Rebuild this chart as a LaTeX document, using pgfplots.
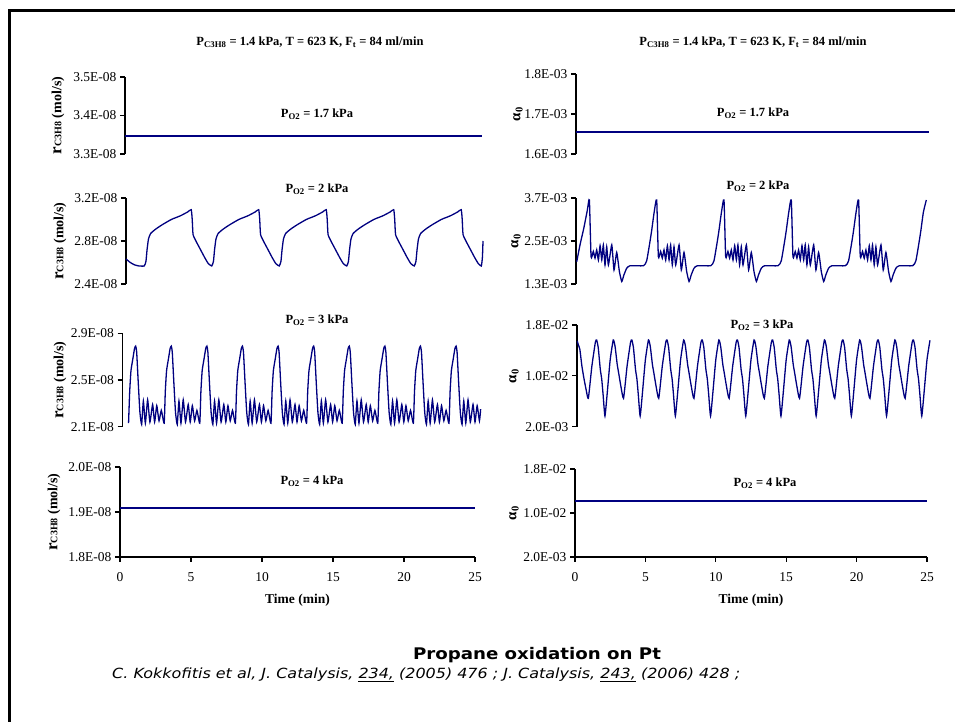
\documentclass[border=0pt]{standalone}
\usepackage{fontspec}
\setmainfont{Liberation Serif}
\newfontfamily\capfont{DejaVu Sans}
\usepackage{pgfplots}
\pgfplotsset{compat=1.18}
\definecolor{curve}{RGB}{0,0,128}
\newcommand{\ticksz}{\fontsize{13.5}{14}\selectfont}
\newcommand{\lblsz}{\fontsize{12.5}{13}\selectfont\bfseries}
\pgfplotsset{
  panel/.style={
    scale only axis, enlargelimits=false, clip=false,
    axis y line*=left,
    axis line style={black, line width=1.1pt},
    tick align=outside, major tick length=5pt,
    tick style={black, line width=1.1pt},
    ticklabel style={font=\ticksz},
    /pgf/number format/assume math mode=true,
    xmin=0, xmax=25,
    every axis plot post/.append style={color=curve, line width=1.3pt, mark=none},
  },
  top/.style={panel, axis x line=none},
  bottom/.style={panel,
    axis x line*=bottom, xtick={0,5,10,15,20,25},
    xticklabel style={yshift=-7pt},
    xlabel={Time (min)}, xlabel style={font=\fontsize{13.5}{14}\selectfont\bfseries, yshift=-6pt},
  },
  wavy/.style={smooth, tension=0.3},
}
\begin{document}
\begin{tikzpicture}
\useasboundingbox (0,0) rectangle (955pt,722pt);
\draw[line width=3pt] (9pt,0pt) -- (9pt,711pt) -- (955pt,711pt);

% ---------- left column ----------
\begin{axis}[top, at={(125pt,568pt)}, anchor=south west, width=356pt, height=77pt,
  ymin=3.3, ymax=3.5, ytick={3.3,3.4,3.5}, yticklabels={3.3E-08,3.4E-08,3.5E-08}]
\addplot coordinates {(0,3.347) (25.1,3.347)};
\end{axis}

\begin{axis}[top, at={(126pt,438pt)}, anchor=south west, width=356pt, height=86pt,
  ymin=2.4, ymax=3.2, ytick={2.4,2.8,3.2}, yticklabels={2.4E-08,2.8E-08,3.2E-08}]
\addplot+[wavy] coordinates {
(0,2.633) (0.3,2.60) (0.6,2.578) (0.9,2.568)
(1.28,2.568) (1.40,2.61) (1.48,2.72) (1.58,2.82) (1.73,2.87) (2.08,2.91) (2.53,2.95) (3.18,3.00) (3.83,3.035) (4.33,3.07) (4.58,3.091) (4.65,3.00) (4.71,2.86) (4.93,2.795) (5.23,2.72) (5.53,2.645) (5.78,2.59)
(6.02,2.568) (6.14,2.61) (6.22,2.72) (6.32,2.82) (6.47,2.87) (6.82,2.91) (7.27,2.95) (7.92,3.00) (8.57,3.035) (9.07,3.07) (9.32,3.091) (9.39,3.00) (9.45,2.86) (9.67,2.795) (9.97,2.72) (10.27,2.645) (10.52,2.59)
(10.76,2.568) (10.88,2.61) (10.96,2.72) (11.06,2.82) (11.21,2.87) (11.56,2.91) (12.01,2.95) (12.66,3.00) (13.31,3.035) (13.81,3.07) (14.06,3.091) (14.13,3.00) (14.19,2.86) (14.41,2.795) (14.71,2.72) (15.01,2.645) (15.26,2.59)
(15.50,2.568) (15.62,2.61) (15.70,2.72) (15.80,2.82) (15.95,2.87) (16.30,2.91) (16.75,2.95) (17.40,3.00) (18.05,3.035) (18.55,3.07) (18.80,3.091) (18.87,3.00) (18.93,2.86) (19.15,2.795) (19.45,2.72) (19.75,2.645) (20.00,2.59)
(20.24,2.568) (20.36,2.61) (20.44,2.72) (20.54,2.82) (20.69,2.87) (21.04,2.91) (21.49,2.95) (22.14,3.00) (22.79,3.035) (23.29,3.07) (23.54,3.091) (23.61,3.00) (23.67,2.86) (23.89,2.795) (24.19,2.72) (24.49,2.645) (24.74,2.59)
(24.95,2.568) (25.03,2.65) (25.07,2.80)
};
\end{axis}

\begin{axis}[top, at={(122.5pt,295.3pt)}, anchor=south west, width=356pt, height=93.4pt,
  ymin=2.1, ymax=2.9, ytick={2.1,2.5,2.9}, yticklabels={2.1E-08,2.5E-08,2.9E-08}]
\addplot+[wavy] coordinates {
(0.425,2.13) (0.505,2.40) (0.595,2.58) (0.725,2.68) (0.845,2.77) (0.925,2.79) (0.995,2.74) (1.105,2.48) (1.225,2.22) (1.345,2.12) (1.465,2.32) (1.605,2.13) (1.765,2.33) (1.925,2.14) (2.115,2.29) (2.255,2.14) (2.405,2.28) (2.565,2.15) (2.725,2.24)
(2.925,2.13) (3.005,2.40) (3.095,2.58) (3.225,2.68) (3.345,2.77) (3.425,2.79) (3.495,2.74) (3.605,2.48) (3.725,2.22) (3.845,2.12) (3.965,2.32) (4.105,2.13) (4.265,2.33) (4.425,2.14) (4.615,2.29) (4.755,2.14) (4.905,2.28) (5.065,2.15) (5.225,2.24)
(5.425,2.13) (5.505,2.40) (5.595,2.58) (5.725,2.68) (5.845,2.77) (5.925,2.79) (5.995,2.74) (6.105,2.48) (6.225,2.22) (6.345,2.12) (6.465,2.32) (6.605,2.13) (6.765,2.33) (6.925,2.14) (7.115,2.29) (7.255,2.14) (7.405,2.28) (7.565,2.15) (7.725,2.24)
(7.925,2.13) (8.005,2.40) (8.095,2.58) (8.225,2.68) (8.345,2.77) (8.425,2.79) (8.495,2.74) (8.605,2.48) (8.725,2.22) (8.845,2.12) (8.965,2.32) (9.105,2.13) (9.265,2.33) (9.425,2.14) (9.615,2.29) (9.755,2.14) (9.905,2.28) (10.065,2.15) (10.225,2.24)
(10.425,2.13) (10.505,2.40) (10.595,2.58) (10.725,2.68) (10.845,2.77) (10.925,2.79) (10.995,2.74) (11.105,2.48) (11.225,2.22) (11.345,2.12) (11.465,2.32) (11.605,2.13) (11.765,2.33) (11.925,2.14) (12.115,2.29) (12.255,2.14) (12.405,2.28) (12.565,2.15) (12.725,2.24)
(12.925,2.13) (13.005,2.40) (13.095,2.58) (13.225,2.68) (13.345,2.77) (13.425,2.79) (13.495,2.74) (13.605,2.48) (13.725,2.22) (13.845,2.12) (13.965,2.32) (14.105,2.13) (14.265,2.33) (14.425,2.14) (14.615,2.29) (14.755,2.14) (14.905,2.28) (15.065,2.15) (15.225,2.24)
(15.425,2.13) (15.505,2.40) (15.595,2.58) (15.725,2.68) (15.845,2.77) (15.925,2.79) (15.995,2.74) (16.105,2.48) (16.225,2.22) (16.345,2.12) (16.465,2.32) (16.605,2.13) (16.765,2.33) (16.925,2.14) (17.115,2.29) (17.255,2.14) (17.405,2.28) (17.565,2.15) (17.725,2.24)
(17.925,2.13) (18.005,2.40) (18.095,2.58) (18.225,2.68) (18.345,2.77) (18.425,2.79) (18.495,2.74) (18.605,2.48) (18.725,2.22) (18.845,2.12) (18.965,2.32) (19.105,2.13) (19.265,2.33) (19.425,2.14) (19.615,2.29) (19.755,2.14) (19.905,2.28) (20.065,2.15) (20.225,2.24)
(20.425,2.13) (20.505,2.40) (20.595,2.58) (20.725,2.68) (20.845,2.77) (20.925,2.79) (20.995,2.74) (21.105,2.48) (21.225,2.22) (21.345,2.12) (21.465,2.32) (21.605,2.13) (21.765,2.33) (21.925,2.14) (22.115,2.29) (22.255,2.14) (22.405,2.28) (22.565,2.15) (22.725,2.24)
(22.925,2.13) (23.005,2.40) (23.095,2.58) (23.225,2.68) (23.345,2.77) (23.425,2.79) (23.495,2.74) (23.605,2.48) (23.725,2.22) (23.845,2.12) (23.965,2.32) (24.105,2.13) (24.265,2.33) (24.425,2.14) (24.615,2.29) (24.755,2.14) (24.905,2.28) (25.065,2.15) (25.15,2.25)
};
\end{axis}

\begin{axis}[bottom, at={(120pt,165pt)}, anchor=south west, width=355pt, height=90pt,
  ymin=1.8, ymax=2.0, ytick={1.8,1.9,2.0}, yticklabels={1.8E-08,1.9E-08,2.0E-08}]
\addplot coordinates {(0,1.909) (25,1.909)};
\end{axis}

% ---------- right column ----------
\begin{axis}[top, at={(576pt,568pt)}, anchor=south west, width=352pt, height=80pt,
  ymin=1.6, ymax=1.8, ytick={1.6,1.7,1.8}, yticklabels={1.6E-03,1.7E-03,1.8E-03}]
\addplot coordinates {(0,1.655) (25.05,1.655)};
\end{axis}

\begin{axis}[top, at={(576pt,438pt)}, anchor=south west, width=352pt, height=86pt,
  ymin=1.3, ymax=3.7, ytick={1.3,2.5,3.7}, yticklabels={1.3E-03,2.5E-03,3.7E-03}]
\addplot+[wavy] coordinates {
(0.05,1.92) (0.3,2.42) (0.55,2.85) (0.8,3.35)
(0.95,3.644) (1.07,2.06) (1.23,2.21) (1.35,2.02) (1.47,2.25) (1.59,1.97) (1.71,2.37) (1.83,1.97) (1.94,2.39) (2.06,1.83) (2.18,2.34) (2.30,1.83) (2.54,2.39) (2.70,1.69) (2.89,2.18) (3.08,1.65) (3.25,1.37) (3.40,1.55) (3.60,1.74) (3.84,1.81) (4.79,1.81) (5.02,1.95) (5.26,2.5) (5.38,2.81) (5.55,3.3)
(5.73,3.644) (5.85,2.06) (6.01,2.21) (6.13,2.02) (6.25,2.25) (6.37,1.97) (6.49,2.37) (6.61,1.97) (6.72,2.39) (6.84,1.83) (6.96,2.34) (7.08,1.83) (7.32,2.39) (7.48,1.69) (7.67,2.18) (7.86,1.65) (8.03,1.37) (8.18,1.55) (8.38,1.74) (8.62,1.81) (9.57,1.81) (9.80,1.95) (10.04,2.5) (10.16,2.81) (10.33,3.3)
(10.51,3.644) (10.63,2.06) (10.79,2.21) (10.91,2.02) (11.03,2.25) (11.15,1.97) (11.27,2.37) (11.39,1.97) (11.50,2.39) (11.62,1.83) (11.74,2.34) (11.86,1.83) (12.10,2.39) (12.26,1.69) (12.45,2.18) (12.64,1.65) (12.81,1.37) (12.96,1.55) (13.16,1.74) (13.40,1.81) (14.35,1.81) (14.58,1.95) (14.82,2.5) (14.94,2.81) (15.11,3.3)
(15.29,3.644) (15.41,2.06) (15.57,2.21) (15.69,2.02) (15.81,2.25) (15.93,1.97) (16.05,2.37) (16.17,1.97) (16.28,2.39) (16.40,1.83) (16.52,2.34) (16.64,1.83) (16.88,2.39) (17.04,1.69) (17.23,2.18) (17.42,1.65) (17.59,1.37) (17.74,1.55) (17.94,1.74) (18.18,1.81) (19.13,1.81) (19.36,1.95) (19.60,2.5) (19.72,2.81) (19.89,3.3)
(20.07,3.644) (20.19,2.06) (20.35,2.21) (20.47,2.02) (20.59,2.25) (20.71,1.97) (20.83,2.37) (20.95,1.97) (21.06,2.39) (21.18,1.83) (21.30,2.34) (21.42,1.83) (21.66,2.39) (21.82,1.69) (22.01,2.18) (22.20,1.65) (22.37,1.37) (22.52,1.55) (22.72,1.74) (22.96,1.81) (23.91,1.81) (24.14,1.95) (24.38,2.5) (24.50,2.81) (24.67,3.3)
(24.88,3.644)
};
\end{axis}

\begin{axis}[top, at={(577pt,295.3pt)}, anchor=south west, width=352pt, height=101.7pt,
  ymin=2, ymax=18, ytick={2,10,18}, yticklabels={2.0E-03,1.0E-02,1.8E-02}]
\addplot+[wavy] coordinates {
(0.02,15.5) (0.09,14.9) (0.2,14.2) (0.35,11.5) (0.5,9.5) (0.65,7.8)
(0.805,6.47) (1.055,11.5) (1.305,15.3) (1.395,15.64) (1.505,14.5) (1.655,11.0) (1.755,9.5) (1.855,7.0) (1.985,3.68) (2.155,7.5) (2.355,12.5) (2.575,15.64) (2.705,14.6) (2.855,11.8) (2.955,10.5) (3.105,8.5)
(3.305,6.47) (3.555,11.5) (3.805,15.3) (3.895,15.64) (4.005,14.5) (4.155,11.0) (4.255,9.5) (4.355,7.0) (4.485,3.68) (4.655,7.5) (4.855,12.5) (5.075,15.64) (5.205,14.6) (5.355,11.8) (5.455,10.5) (5.605,8.5)
(5.805,6.47) (6.055,11.5) (6.305,15.3) (6.395,15.64) (6.505,14.5) (6.655,11.0) (6.755,9.5) (6.855,7.0) (6.985,3.68) (7.155,7.5) (7.355,12.5) (7.575,15.64) (7.705,14.6) (7.855,11.8) (7.955,10.5) (8.105,8.5)
(8.305,6.47) (8.555,11.5) (8.805,15.3) (8.895,15.64) (9.005,14.5) (9.155,11.0) (9.255,9.5) (9.355,7.0) (9.485,3.68) (9.655,7.5) (9.855,12.5) (10.075,15.64) (10.205,14.6) (10.355,11.8) (10.455,10.5) (10.605,8.5)
(10.805,6.47) (11.055,11.5) (11.305,15.3) (11.395,15.64) (11.505,14.5) (11.655,11.0) (11.755,9.5) (11.855,7.0) (11.985,3.68) (12.155,7.5) (12.355,12.5) (12.575,15.64) (12.705,14.6) (12.855,11.8) (12.955,10.5) (13.105,8.5)
(13.305,6.47) (13.555,11.5) (13.805,15.3) (13.895,15.64) (14.005,14.5) (14.155,11.0) (14.255,9.5) (14.355,7.0) (14.485,3.68) (14.655,7.5) (14.855,12.5) (15.075,15.64) (15.205,14.6) (15.355,11.8) (15.455,10.5) (15.605,8.5)
(15.805,6.47) (16.055,11.5) (16.305,15.3) (16.395,15.64) (16.505,14.5) (16.655,11.0) (16.755,9.5) (16.855,7.0) (16.985,3.68) (17.155,7.5) (17.355,12.5) (17.575,15.64) (17.705,14.6) (17.855,11.8) (17.955,10.5) (18.105,8.5)
(18.305,6.47) (18.555,11.5) (18.805,15.3) (18.895,15.64) (19.005,14.5) (19.155,11.0) (19.255,9.5) (19.355,7.0) (19.485,3.68) (19.655,7.5) (19.855,12.5) (20.075,15.64) (20.205,14.6) (20.355,11.8) (20.455,10.5) (20.605,8.5)
(20.805,6.47) (21.055,11.5) (21.305,15.3) (21.395,15.64) (21.505,14.5) (21.655,11.0) (21.755,9.5) (21.855,7.0) (21.985,3.68) (22.155,7.5) (22.355,12.5) (22.575,15.64) (22.705,14.6) (22.855,11.8) (22.955,10.5) (23.105,8.5)
(23.305,6.47) (23.555,11.5) (23.805,15.3) (23.895,15.64) (24.005,14.5) (24.155,11.0) (24.255,9.5) (24.355,7.0) (24.485,3.68) (24.655,7.5) (24.855,12.5) (25.07,15.6)
};
\end{axis}

\begin{axis}[bottom, at={(575pt,165pt)}, anchor=south west, width=352pt, height=88pt,
  ymin=2, ymax=18, ytick={2,10,18}, yticklabels={2.0E-03,1.0E-02,1.8E-02}]
\addplot coordinates {(0,12.2) (25,12.2)};
\end{axis}

% ---------- texts ----------
\begin{scope}[every node/.style={font=\lblsz, inner sep=0pt}]
\node at (310pt,680pt) {P\textsubscript{C3H8} = 1.4 kPa, T = 623 K, F\textsubscript{t} = 84 ml/min};
\node at (753pt,680pt) {P\textsubscript{C3H8} = 1.4 kPa, T = 623 K, F\textsubscript{t} = 84 ml/min};
\node at (317pt,608pt) {P\textsubscript{O2} = 1.7 kPa};
\node at (753pt,609pt) {P\textsubscript{O2} = 1.7 kPa};
\node at (317pt,533pt) {P\textsubscript{O2} = 2 kPa};
\node at (758pt,536pt) {P\textsubscript{O2} = 2 kPa};
\node at (317pt,402pt) {P\textsubscript{O2} = 3 kPa};
\node at (762pt,397pt) {P\textsubscript{O2} = 3 kPa};
\node at (312pt,241pt) {P\textsubscript{O2} = 4 kPa};
\node at (765pt,239pt) {P\textsubscript{O2} = 4 kPa};
\end{scope}

\newcommand{\rlab}{{\fontsize{17}{17}\selectfont\bfseries r}{\fontsize{10}{10}\selectfont\bfseries C3H8}{\fontsize{14}{14}\selectfont\bfseries\ (mol/s)}}
\newcommand{\alab}{{\fontsize{15}{15}\selectfont\bfseries α\textsubscript{0}}}
\begin{scope}[every node/.style={rotate=90, inner sep=0pt}]
\node at (58pt,606.5pt) {\rlab};
\node at (60pt,481pt) {\rlab};
\node at (60pt,342pt) {\rlab};
\node at (54pt,210pt) {\rlab};
\node at (518pt,608pt) {\alab};
\node at (516pt,481pt) {\alab};
\node at (514pt,346pt) {\alab};
\node at (514pt,209pt) {\alab};
\end{scope}

\node[font=\capfont\fontsize{16}{17}\selectfont\bfseries] at (537pt,67pt) {\resizebox{248pt}{\height}{Propane oxidation on Pt}};
\node[font=\capfont\fontsize{14}{15}\selectfont\itshape, anchor=west, inner sep=0pt] at (112pt,47pt)
  {\resizebox{628pt}{\height}{C. Kokkofitis et al, J. Catalysis, \underline{234,} (2005) 476 ; J. Catalysis, \underline{243,} (2006) 428 ;}};
\end{tikzpicture}
\end{document}
